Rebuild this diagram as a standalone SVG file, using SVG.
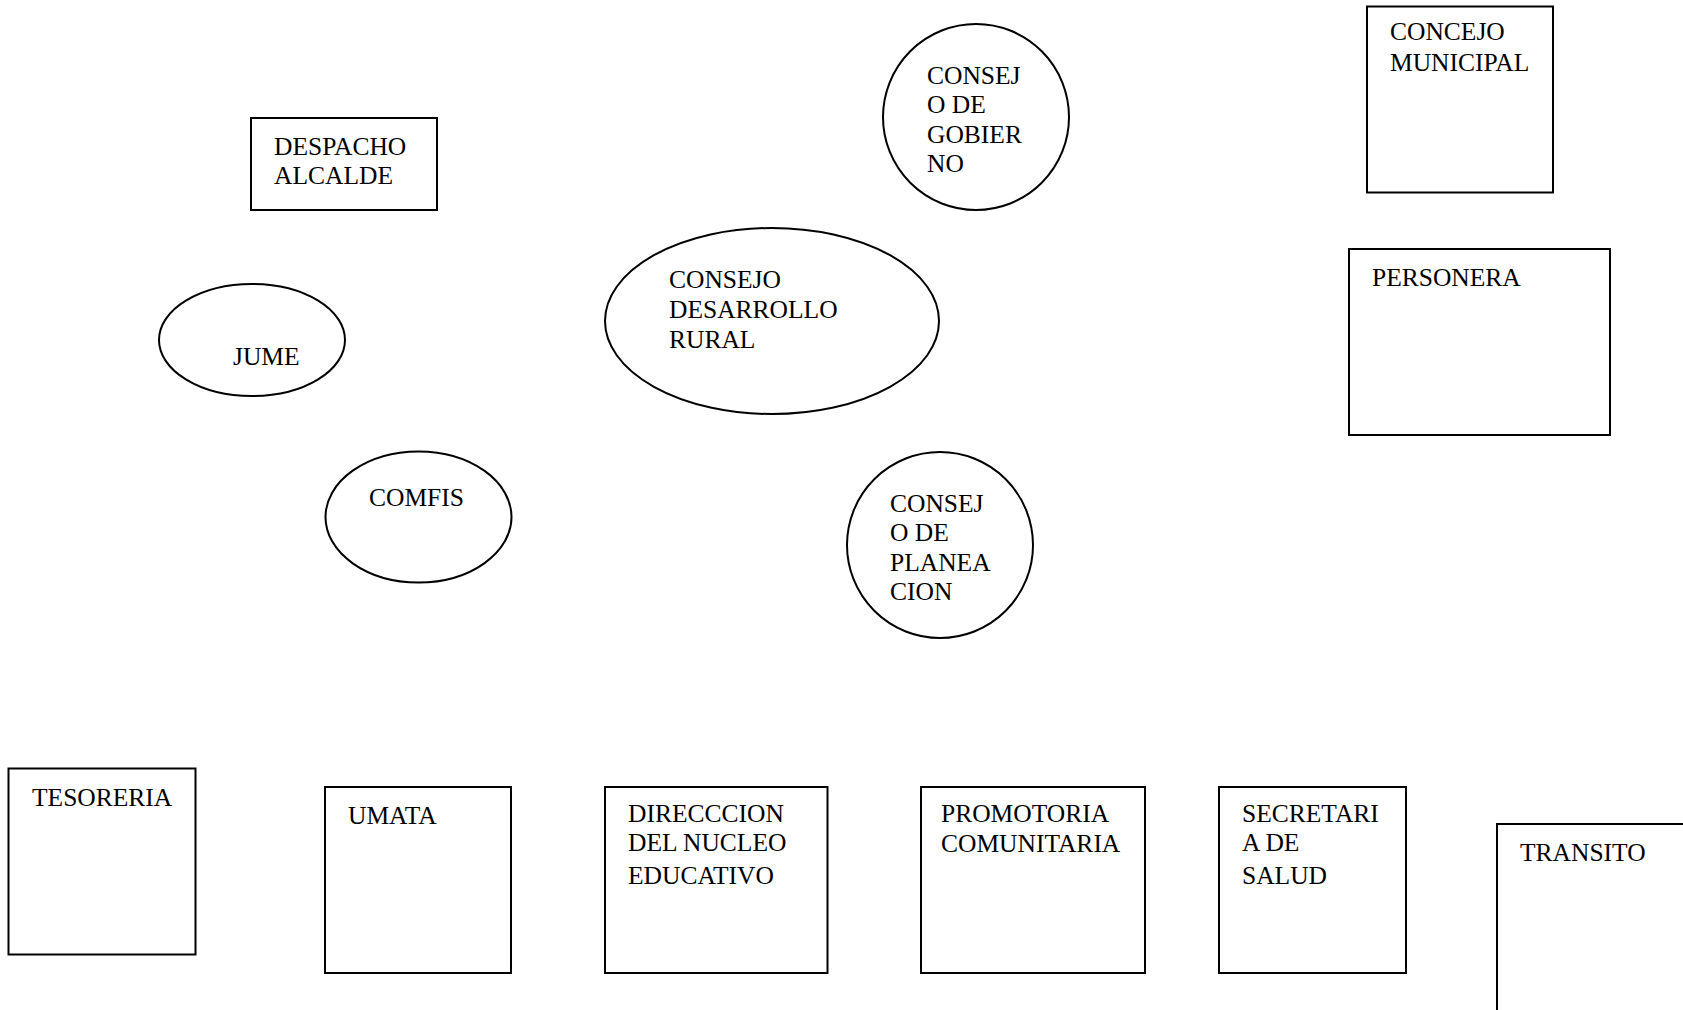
<svg xmlns="http://www.w3.org/2000/svg" width="1683" height="1010" viewBox="0 0 1683 1010">
<style>
.s{fill:#fff;stroke:#000;stroke-width:2}
.t{font-family:"Liberation Serif","Times New Roman",serif;font-size:25.5px;fill:#000}
</style>
<rect width="1683" height="1010" fill="#fff"/>
<g id="despacho"><rect class="s" x="251" y="118" width="186" height="92"/><text class="t" x="274" y="155">DESPACHO</text><text class="t" x="274" y="184">ALCALDE</text></g>
<g id="jume"><ellipse class="s" cx="252" cy="340" rx="93" ry="56"/><text class="t" x="233" y="365">JUME</text></g>
<g id="comfis"><ellipse class="s" cx="418.5" cy="517" rx="93" ry="65.5"/><text class="t" x="369" y="506">COMFIS</text></g>
<g id="consejo-desarrollo"><ellipse class="s" cx="772" cy="321" rx="167" ry="93"/><text class="t" x="669" y="288">CONSEJO</text><text class="t" x="669" y="318">DESARROLLO</text><text class="t" x="669" y="348">RURAL</text></g>
<g id="consejo-gobierno"><circle class="s" cx="976" cy="117" r="93"/><text class="t" x="927" y="84">CONSEJ</text><text class="t" x="927" y="113">O DE</text><text class="t" x="927" y="143">GOBIER</text><text class="t" x="927" y="172">NO</text></g>
<g id="consejo-planeacion"><circle class="s" cx="940" cy="545" r="93"/><text class="t" x="890" y="512">CONSEJ</text><text class="t" x="890" y="541">O DE</text><text class="t" x="890" y="571">PLANEA</text><text class="t" x="890" y="600">CION</text></g>
<g id="concejo"><rect class="s" x="1367" y="6.5" width="186" height="186"/><text class="t" x="1390" y="40">CONCEJO</text><text class="t" x="1390" y="71">MUNICIPAL</text></g>
<g id="personera"><rect class="s" x="1349" y="249" width="261" height="186"/><text class="t" x="1372" y="286">PERSONERA</text></g>
<g id="tesoreria"><rect class="s" x="8.5" y="768.5" width="187" height="186"/><text class="t" x="32" y="806">TESORERIA</text></g>
<g id="umata"><rect class="s" x="325" y="787" width="186" height="186"/><text class="t" x="348" y="824">UMATA</text></g>
<g id="direccion"><rect class="s" x="605" y="787" width="222.5" height="186"/><text class="t" x="628" y="822">DIRECCCION</text><text class="t" x="628" y="851">DEL NUCLEO</text><text class="t" x="628" y="884">EDUCATIVO</text></g>
<g id="promotoria"><rect class="s" x="921" y="787" width="224" height="186"/><text class="t" x="941" y="822">PROMOTORIA</text><text class="t" x="941" y="852">COMUNITARIA</text></g>
<g id="secretaria"><rect class="s" x="1219" y="787" width="187" height="186"/><text class="t" x="1242" y="822">SECRETARI</text><text class="t" x="1242" y="851">A DE</text><text class="t" x="1242" y="884">SALUD</text></g>
<g id="transito"><rect class="s" x="1497" y="824" width="187" height="187"/><text class="t" x="1520" y="861">TRANSITO</text></g>
<g id="connectors"></g>
</svg>
